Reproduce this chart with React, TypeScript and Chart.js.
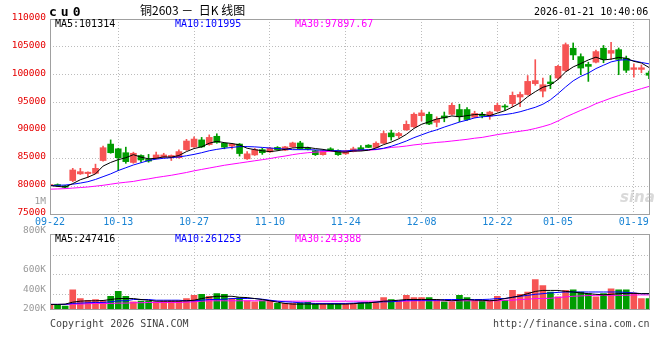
import React, { useEffect, useRef } from 'react';
import { Chart, registerables } from 'chart.js';

Chart.register(...registerables);

// ---------- data ----------
const DATES = [
  '09-22','09-23','09-24','09-25','09-26','09-29','09-30','10-09','10-10',
  '10-13','10-14','10-15','10-16','10-17','10-20','10-21','10-22','10-23','10-24',
  '10-27','10-28','10-29','10-30','10-31','11-03','11-04','11-05','11-06','11-07',
  '11-10','11-11','11-12','11-13','11-14','11-17','11-18','11-19','11-20','11-21',
  '11-24','11-25','11-26','11-27','11-28','12-01','12-02','12-03','12-04','12-05',
  '12-08','12-09','12-10','12-11','12-12','12-15','12-16','12-17','12-18','12-19',
  '12-22','12-23','12-24','12-25','12-26','12-29','12-30','12-31',
  '01-05','01-06','01-07','01-08','01-09','01-12','01-13','01-14','01-15','01-16',
  '01-19','01-20','01-21'
];
const TICK_DATES = ['09-22','10-13','10-27','11-10','11-24','12-08','12-22','01-05','01-19'];

const OPEN = [
  80100,80200,80050,81000,82200,82250,82300,84600,87550,86700,
  86000,84250,85500,84800,85000,85200,85200,85100,86550,87050,
  88300,87450,88950,87700,87200,87550,84900,85600,86550,86150,
  86950,86450,87050,87750,86850,86350,85650,86700,86400,85800,
  86250,86900,87350,86950,87700,89550,89050,90100,90650,92650,
  92900,91450,92600,92900,93750,93750,92350,92900,92600,93500,
  94250,94800,96000,96450,98400,97050,98700,99400,100750,104750,
  103250,101850,102250,104750,103850,104500,102950,100950,100950,100300
];
const HIGH = [
  80450,80400,80150,83200,83200,82550,83950,87200,88300,86800,
  87000,86100,85600,85700,86100,85900,85600,86500,88400,88850,
  88750,89200,89400,87800,87650,87650,86200,86800,86800,86950,
  87100,87150,87900,88050,87000,86450,86450,86900,86500,86450,
  87000,87300,87450,87950,89900,90050,89650,91700,93150,93600,
  93300,92450,93300,94900,94700,94100,93450,93250,93450,94900,
  94650,96900,96900,99850,102700,99400,99850,101700,105700,105700,
  103750,102250,104400,105250,105800,104800,103350,101950,101750,100650
];
const LOW = [
  80000,79900,79700,80800,82100,81600,82200,84500,85900,82800,
  84100,84100,84300,84300,84900,85100,84600,85000,86400,86950,
  86950,87350,87700,86700,86700,85400,84800,85500,85700,86050,
  86400,86350,86950,86600,86500,85500,85550,86300,85500,85700,
  86150,86400,86900,86850,87600,88250,88650,90000,90550,91700,
  91050,90650,91550,92800,91550,91800,92250,92250,92000,93400,
  93650,94250,94250,96350,98100,96000,97500,99200,100600,102700,
  100000,98800,102100,102150,102750,100000,100400,99550,100350,99300
];
const CLOSE = [
  80300,80100,79800,82900,82600,82500,83200,86900,86000,85100,
  84400,85900,84700,84500,85600,85600,85500,86200,88100,88450,
  87050,88750,87850,87000,87550,85850,85800,86550,86000,86800,
  86550,87050,87750,86700,86650,85650,86350,86400,85650,86350,
  86700,86500,86950,87700,89450,88850,89450,91100,92900,93150,
  91150,92000,92250,94500,92450,91950,93050,92600,93300,94500,
  94200,96300,96450,98800,98950,98200,98400,101500,105400,103550,
  101200,101500,104150,102750,104350,102750,100800,101250,101250,99900
];
const MA5 = [
  80100,79950,79850,80450,81150,81600,82200,83600,84250,84750,
  85100,85650,85200,84900,85000,85250,85200,85500,86200,86750,
  87050,87700,88050,87800,87650,87400,86800,86550,86350,86200,
  86350,86600,86850,86950,86950,86750,86600,86350,86150,86100,
  86300,86300,86450,86850,87450,87900,88500,89300,90350,91100,
  91550,92050,92300,92600,92450,92650,92850,92900,92650,93100,
  93550,94200,94950,96050,96950,97750,98150,99150,100500,101400,
  102000,102650,103150,102650,102800,103100,102950,102400,102100,101300
];
const MA10 = [
  80100,80150,80200,80350,80550,80800,81200,81700,82200,82800,
  83300,83800,84200,84600,84850,85000,85100,85250,85450,85700,
  86000,86350,86600,86800,86950,87100,87100,87050,86950,86850,
  86750,86650,86550,86550,86550,86500,86450,86400,86350,86300,
  86450,86500,86550,86600,86800,87150,87600,88100,88700,89200,
  89700,90100,90600,91050,91500,91850,92250,92450,92550,92700,
  92850,93050,93350,93750,94150,94700,95500,96600,97800,98900,
  99700,100300,101100,101700,102300,102600,102700,102500,102200,101950
];
const MA30 = [
  79450,79500,79550,79650,79750,79850,80000,80150,80350,80550,
  80700,80850,81100,81300,81550,81750,81950,82200,82450,82750,
  83000,83250,83500,83750,83950,84150,84350,84550,84750,84950,
  85200,85400,85650,85850,86000,86100,86200,86250,86250,86250,
  86300,86400,86450,86550,86750,86950,87050,87200,87400,87550,
  87700,87850,87950,88100,88250,88400,88600,88750,89000,89250,
  89450,89650,89850,90050,90350,90700,91100,91700,92400,93000,
  93600,94150,94800,95300,95800,96250,96700,97100,97500,97900
];

const VOLUME = [
  297000,297000,280000,447000,357000,340000,347000,334000,380000,430000,
  380000,324000,330000,330000,324000,330000,334000,334000,357000,390000,
  400000,380000,407000,400000,357000,367000,334000,324000,334000,334000,
  307000,307000,307000,314000,317000,300000,300000,307000,307000,300000,
  307000,314000,314000,314000,367000,347000,334000,390000,367000,367000,
  367000,347000,324000,324000,390000,367000,334000,340000,340000,380000,
  340000,440000,400000,424000,550000,490000,424000,374000,440000,447000,
  424000,407000,374000,407000,457000,447000,447000,414000,357000,357000
];
const VOL_MA5 = [
  297000,297000,300000,320000,330000,334000,334000,337000,347000,357000,
  357000,357000,347000,340000,330000,330000,330000,330000,334000,340000,
  357000,370000,380000,380000,380000,370000,367000,357000,347000,334000,
  320000,307000,300000,300000,300000,300000,300000,300000,300000,300000,
  304000,310000,314000,320000,330000,334000,340000,347000,347000,347000,
  347000,347000,340000,334000,340000,347000,340000,340000,334000,340000,
  357000,370000,385000,407000,430000,440000,440000,440000,430000,424000,
  414000,407000,400000,395000,400000,407000,410000,410000,407000,407000
];
const VOL_MA10 = [
  297000,297000,297000,307000,310000,314000,317000,317000,324000,334000,
  334000,347000,347000,347000,340000,340000,340000,340000,334000,334000,
  340000,347000,347000,350000,357000,357000,357000,357000,350000,340000,
  330000,324000,320000,314000,310000,307000,307000,307000,307000,307000,
  310000,314000,314000,320000,324000,324000,330000,340000,340000,340000,
  340000,340000,347000,347000,347000,347000,347000,347000,350000,357000,
  357000,370000,380000,390000,400000,407000,414000,420000,424000,424000,
  424000,424000,424000,424000,424000,424000,420000,414000,407000,407000
];
const VOL_MA30 = [
  297000,297000,297000,300000,300000,304000,307000,307000,307000,310000,
  310000,314000,314000,317000,317000,317000,317000,317000,320000,324000,
  330000,334000,334000,334000,334000,334000,334000,334000,334000,334000,
  330000,330000,330000,330000,330000,330000,330000,330000,330000,330000,
  330000,330000,330000,330000,330000,330000,330000,330000,334000,334000,
  334000,334000,334000,334000,334000,334000,334000,334000,334000,334000,
  340000,340000,347000,350000,357000,357000,360000,367000,374000,380000,
  384000,387000,390000,390000,390000,390000,390000,394000,394000,394000
];

const PRICE_MIN = 75000;
const PRICE_MAX = 110000;
const PRICE_STEP = 5000;
const VOL_MIN = 247000;
const VOL_MAX = 1017000;
const VOL_GRID = [400000, 600000, 800000];
const VOL_LABELS = ['200K', '400K', '600K', '800K', '1M'];
const VOL_LABEL_AT = [200000, 400000, 600000, 1000000, 1300000];

const LEGEND_PRICE = ['MA5:101314', 'MA10:101995', 'MA30:97897.67'];
const LEGEND_VOL = ['MA5:247416', 'MA10:261253', 'MA30:243388'];

// ---------- style ----------
const RED = '#f65454';
const GREEN = '#009c00';
const GRID = '#bcbcbc';
const FRAME = '#a0a0a0';
const MONO = '"DejaVu Sans Mono", monospace';
const MA_COLORS = ['#000000', '#0000ff', '#ff00ff'];

const TICK_IDX = TICK_DATES.map((d) => DATES.indexOf(d));

const frame = {
  id: 'frame',
  afterDraw(chart: any) {
    const { ctx, chartArea } = chart;
    const l = Math.round(chartArea.left) + 0.5;
    const t = Math.round(chartArea.top) + 0.5;
    const r = Math.round(chartArea.right) + 0.5;
    const b = Math.round(chartArea.bottom) + 0.5;
    ctx.save();
    ctx.strokeStyle = FRAME;
    ctx.lineWidth = 1;
    ctx.setLineDash([]);
    ctx.strokeRect(l, t, r - l, b - t);
    ctx.restore();
  },
};

const upColors = CLOSE.map((c, i) => (c >= OPEN[i] ? RED : GREEN));

function lineDs(data: number[], color: string, yAxisID?: string) {
  const ds: any = {
    type: 'line',
    data,
    borderColor: color,
    backgroundColor: color,
    borderWidth: 1,
    pointRadius: 0,
    tension: 0,
    fill: false,
    order: 0,
  };
  if (yAxisID) ds.yAxisID = yAxisID;
  return ds;
}

const dateTicks = (s: any) => {
  s.ticks = TICK_IDX.map((i) => ({ value: i }));
};

export default function App() {
  const priceRef = useRef<HTMLCanvasElement>(null);
  const volRef = useRef<HTMLCanvasElement>(null);

  useEffect(() => {
    const price = new Chart(priceRef.current as HTMLCanvasElement, {
      type: 'bar',
      data: {
        labels: DATES,
        datasets: [
          lineDs(MA5, MA_COLORS[0]),
          lineDs(MA10, MA_COLORS[1]),
          lineDs(MA30, MA_COLORS[2]),
          {
            type: 'bar',
            data: OPEN.map((o, i) => [o, CLOSE[i]]),
            backgroundColor: upColors,
            borderWidth: 0,
            barThickness: 6,
            minBarLength: 1,
            grouped: false,
            order: 1,
          } as any,
          {
            type: 'bar',
            data: LOW.map((l, i) => [l, HIGH[i]]),
            backgroundColor: upColors,
            borderWidth: 0,
            barThickness: 1,
            grouped: false,
            order: 2,
          } as any,
        ],
      },
      options: {
        animation: false,
        responsive: false,
        devicePixelRatio: 1,
        events: [],
        layout: { padding: { top: 19, right: 11, left: 0, bottom: 0 } },
        plugins: { legend: { display: false }, tooltip: { enabled: false } },
        scales: {
          x: {
            type: 'category',
            offset: false,
            afterBuildTicks: dateTicks,
            grid: { offset: false, drawTicks: false, lineWidth: 1, color: GRID },
            border: { display: false, dash: [1, 2] },
            ticks: {
              autoSkip: false,
              maxRotation: 0,
              padding: 2,
              color: '#1a84d4',
              font: { family: MONO, size: 10 },
              callback: (v: any) => DATES[v],
            },
            afterFit: (s: any) => {
              s.height = 18;
            },
          },
          y: {
            min: PRICE_MIN,
            max: PRICE_MAX,
            grid: { color: GRID, drawTicks: false, lineWidth: 1 },
            border: { display: false, dash: [1, 2] },
            ticks: {
              stepSize: PRICE_STEP,
              padding: 4,
              labelOffset: -1.5,
              color: '#e60000',
              font: { family: MONO, size: 9.5 },
              callback: (v: any) => String(v),
            },
            afterFit: (s: any) => {
              s.width = 50;
            },
          },
        },
      } as any,
      plugins: [frame],
    });

    const vol = new Chart(volRef.current as HTMLCanvasElement, {
      type: 'bar',
      data: {
        labels: DATES,
        datasets: [
          lineDs(VOL_MA5, MA_COLORS[0], 'yv'),
          lineDs(VOL_MA10, MA_COLORS[1], 'yv'),
          lineDs(VOL_MA30, MA_COLORS[2], 'yv'),
          {
            type: 'bar',
            data: VOLUME,
            yAxisID: 'yv',
            backgroundColor: upColors,
            borderWidth: 0,
            barThickness: 6,
            grouped: false,
            order: 1,
          } as any,
        ],
      },
      options: {
        animation: false,
        responsive: false,
        devicePixelRatio: 1,
        events: [],
        layout: { padding: { top: 44, right: 11, left: 0, bottom: 8 } },
        plugins: { legend: { display: false }, tooltip: { enabled: false } },
        scales: {
          x: {
            type: 'category',
            offset: false,
            afterBuildTicks: dateTicks,
            grid: { offset: false, drawTicks: false, lineWidth: 1, color: GRID },
            border: { display: false, dash: [1, 2] },
            ticks: { display: false, autoSkip: false },
            afterFit: (s: any) => {
              s.height = 0;
            },
          },
          yv: {
            type: 'linear',
            position: 'left',
            min: VOL_MIN,
            max: VOL_MAX,
            afterBuildTicks: (s: any) => {
              s.ticks = VOL_GRID.map((v) => ({ value: v }));
            },
            grid: { color: GRID, drawTicks: false, lineWidth: 1 },
            border: { display: false, dash: [1, 2] },
            ticks: { display: false },
            afterFit: (s: any) => {
              s.width = 0;
            },
          },
          yl: {
            type: 'linear',
            position: 'left',
            min: VOL_MIN,
            max: VOL_MAX,
            afterBuildTicks: (s: any) => {
              s.ticks = VOL_LABEL_AT.map((v) => ({ value: v }));
            },
            grid: { display: false, drawTicks: false },
            border: { display: false },
            ticks: {
              autoSkip: false,
              padding: 4,
              labelOffset: -5,
              color: '#9a9a9a',
              font: { family: MONO, size: 9.5 },
              callback: (_v: any, i: number) => VOL_LABELS[i],
            },
            afterFit: (s: any) => {
              s.width = 50;
            },
          },
        },
      } as any,
      plugins: [frame],
    });

    return () => {
      price.destroy();
      vol.destroy();
    };
  }, []);

  const txt = (extra: React.CSSProperties): React.CSSProperties => ({
    position: 'absolute',
    whiteSpace: 'pre',
    fontFamily: MONO,
    fontSize: 10,
    lineHeight: '10px',
    ...extra,
  });

  return (
    <div
      style={{
        position: 'fixed',
        left: 0,
        top: 0,
        width: 660,
        height: 360,
        background: '#ffffff',
        overflow: 'hidden',
      }}
    >
      <canvas ref={priceRef} width={660} height={232} style={{ position: 'absolute', left: 0, top: 0 }} />
      <canvas ref={volRef} width={660} height={129} style={{ position: 'absolute', left: 0, top: 190 }} />

      <div style={txt({ left: 49, top: 5, fontSize: 13, lineHeight: '13px', fontWeight: 'bold', letterSpacing: 4, color: '#000' })}>cu0</div>
      <div style={txt({ left: 140, top: 4, fontFamily: '"Noto Sans CJK SC", sans-serif', fontSize: 12, lineHeight: '12px', color: '#000' })}>
        {'铜2603 －  日K 线图'}
      </div>
      <div style={txt({ left: 534, top: 7, color: '#000' })}>2026-01-21 10:40:06</div>

      <div style={txt({ left: 55, top: 19, color: MA_COLORS[0] })}>{LEGEND_PRICE[0]}</div>
      <div style={txt({ left: 175, top: 19, color: MA_COLORS[1] })}>{LEGEND_PRICE[1]}</div>
      <div style={txt({ left: 295, top: 19, color: MA_COLORS[2] })}>{LEGEND_PRICE[2]}</div>

      <div style={txt({ left: 55, top: 234, color: MA_COLORS[0] })}>{LEGEND_VOL[0]}</div>
      <div style={txt({ left: 175, top: 234, color: MA_COLORS[1] })}>{LEGEND_VOL[1]}</div>
      <div style={txt({ left: 295, top: 234, color: MA_COLORS[2] })}>{LEGEND_VOL[2]}</div>

      <div style={txt({ left: 50, top: 319, color: '#444' })}>Copyright 2026 SINA.COM</div>
      <div style={txt({ left: 493, top: 319, color: '#444' })}>http://finance.sina.com.cn</div>

      <div
        style={txt({
          left: 620,
          top: 190,
          fontFamily: '"DejaVu Sans", sans-serif',
          fontSize: 15,
          lineHeight: '15px',
          fontStyle: 'italic',
          fontWeight: 'bold',
          color: 'rgba(180,180,180,0.5)',
        })}
      >
        sina
      </div>
    </div>
  );
}
